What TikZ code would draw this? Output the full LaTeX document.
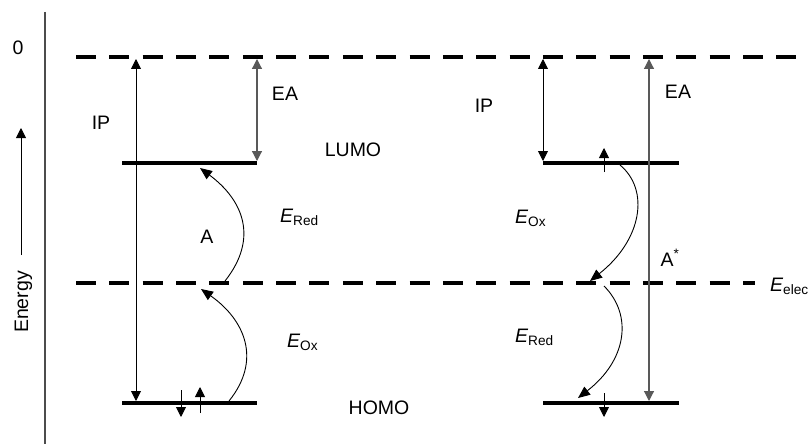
\documentclass[tikz,border=0pt]{standalone}
\usepackage{fontspec}
\setmainfont{Liberation Sans}
\usetikzlibrary{arrows.meta}
\tikzset{
  level/.style={line width=4pt},
  reflevel/.style={line width=4pt, dash pattern=on 20pt off 13.35pt},
  gap/.style={line width=0.9pt, {Triangle[length=10pt,width=10pt]}-{Triangle[length=10pt,width=10pt]}},
  gapgray/.style={gap, black!65, line width=1.2pt},
  spin/.style={line width=0.9pt, -{Triangle[length=10pt,width=10pt]}},
  hop/.style={line width=0.9pt, -{Triangle[length=12pt,width=10pt]}},
  lbl/.style={inner sep=0pt}
}

\begin{document}
\begin{tikzpicture}[x=1pt, y=-1pt, font=\fontsize{19.5}{23}\selectfont]
  \useasboundingbox (0,0) rectangle (812,444);

  % energy axis
  \coordinate (axtop) at (45,12);
  \coordinate (axbot) at (45,444);
  \draw[black!70, line width=1.1pt] (axtop) -- (axbot);
  \coordinate (entail) at (21,255);
  \coordinate (enhead) at (21,128);
  \draw[spin] (entail) -- (enhead);
  \node[lbl, rotate=90, anchor=base] (energy) at (28,302) {Energy};
  \node[lbl] (zero) at (18,48) {0};

  % reference levels
  \coordinate (vacL) at (76,57);   \coordinate (vacR) at (797,57);
  \coordinate (elecL) at (76,283); \coordinate (elecR) at (755,283);
  \draw[reflevel] (vacL) -- (vacR);
  \draw[reflevel] (elecL) -- (elecR);
  \node[lbl, anchor=base west] (eelec) at (770,291) {{\itshape E}\textsubscript{elec}};

  % molecular levels
  \coordinate (lumoAL) at (122,163); \coordinate (lumoAR) at (257,163);
  \coordinate (homoAL) at (122,403); \coordinate (homoAR) at (257,403);
  \coordinate (lumoBL) at (543,163); \coordinate (lumoBR) at (679,163);
  \coordinate (homoBL) at (543,403); \coordinate (homoBR) at (679,403);
  \draw[level] (lumoAL) -- (lumoAR);
  \draw[level] (homoAL) -- (homoAR);
  \draw[level] (lumoBL) -- (lumoBR);
  \draw[level] (homoBL) -- (homoBR);
  \node[lbl] (lumo) at (353,150) {LUMO};
  \node[lbl] (homo) at (379,408) {HOMO};

  % IP and EA, left
  \coordinate (ipAt) at (136,59);  \coordinate (ipAb) at (136,401);
  \coordinate (eaAt) at (257,59);  \coordinate (eaAb) at (257,161);
  \draw[gap] (ipAt) -- (ipAb);
  \draw[gapgray] (eaAt) -- (eaAb);
  \node[lbl] (ipA) at (101,123) {IP};
  \node[lbl] (eaA) at (285,94) {EA};

  % IP and EA, right
  \coordinate (ipBt) at (543,59);  \coordinate (ipBb) at (543,161);
  \coordinate (eaBt) at (649,59);  \coordinate (eaBb) at (649,401);
  \draw[gap] (ipBt) -- (ipBb);
  \draw[gapgray] (eaBt) -- (eaBb);
  \node[lbl] (ipB) at (484,106) {IP};
  \node[lbl] (eaB) at (678,92) {EA};

  % electron spins
  \coordinate (sA1a) at (181,390); \coordinate (sA1b) at (181,417);
  \coordinate (sA2a) at (200,413); \coordinate (sA2b) at (200,387);
  \coordinate (sB1a) at (604,172); \coordinate (sB1b) at (604,148);
  \coordinate (sB2a) at (604,393); \coordinate (sB2b) at (604,417);
  \draw[spin] (sA1a) -- (sA1b);
  \draw[spin] (sA2a) -- (sA2b);
  \draw[spin] (sB1a) -- (sB1b);
  \draw[spin] (sB2a) -- (sB2b);

  % transfers, molecule A
  \coordinate (hA1a) at (229,401); \coordinate (hA1b) at (201,289);
  \coordinate (hA2a) at (225,281); \coordinate (hA2b) at (200,168);
  \draw[hop] (hA1a) .. controls (262,360) and (245,320) .. (hA1b);
  \draw[hop] (hA2a) .. controls (259,238) and (243,200) .. (hA2b);
  \node[lbl] (a) at (207,237) {A};
  \node[lbl, anchor=base west] (eredA) at (280,222) {{\itshape E}\textsubscript{Red}};
  \node[lbl, anchor=base west] (eoxA) at (287,347) {{\itshape E}\textsubscript{Ox}};

  % transfers, molecule A*
  \coordinate (hB1a) at (620,165); \coordinate (hB1b) at (590,281);
  \coordinate (hB2a) at (604,286); \coordinate (hB2b) at (578,398);
  \draw[hop] (hB1a) .. controls (650,190) and (642,240) .. (hB1b);
  \draw[hop] (hB2a) .. controls (633,315) and (627,360) .. (hB2b);
  \node[lbl] (astar) at (670,258) {A\textsuperscript{*}};
  \node[lbl, anchor=base west] (eoxB) at (515,223) {{\itshape E}\textsubscript{Ox}};
  \node[lbl, anchor=base west] (eredB) at (515,342) {{\itshape E}\textsubscript{Red}};
\end{tikzpicture}
\end{document}
